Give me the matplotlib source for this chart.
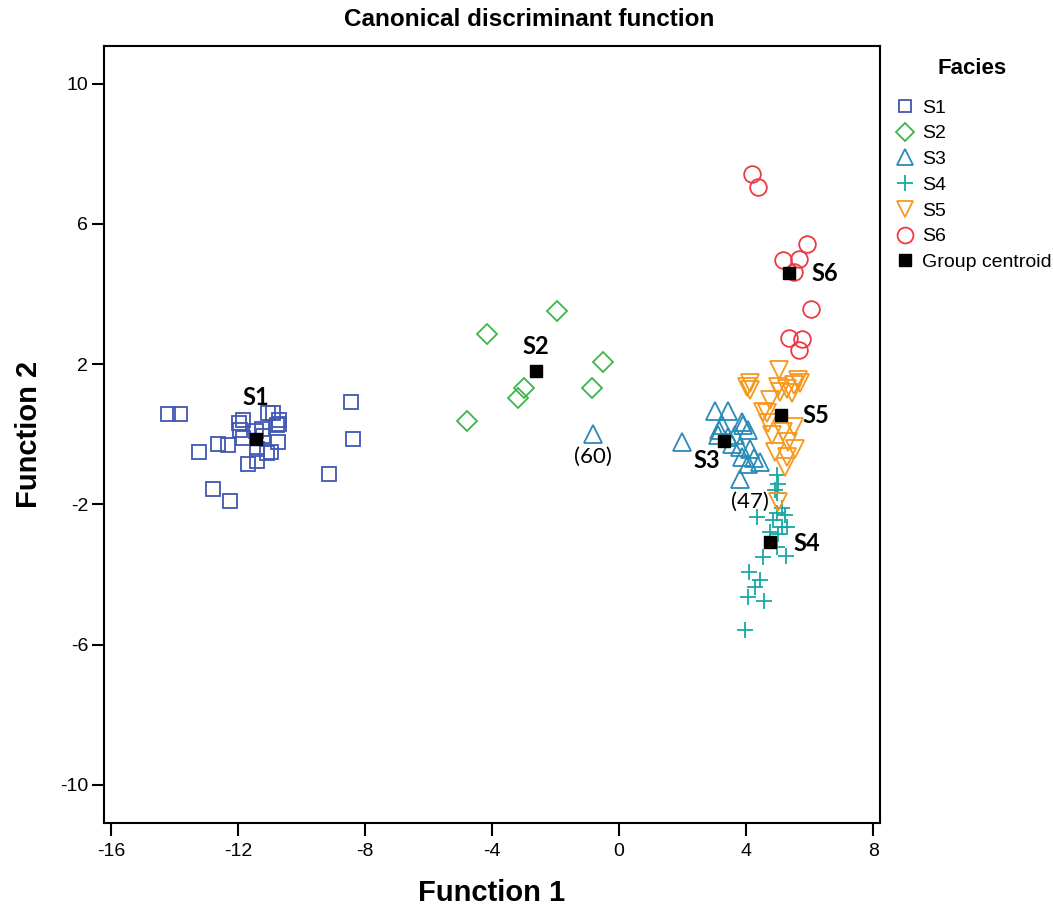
import numpy as np
import matplotlib
matplotlib.use('Agg')
import matplotlib.pyplot as plt
from matplotlib.lines import Line2D

# Discriminant scores per facies (Function 1, Function 2)
s1_x = [-14.19, -13.82, -8.44, -8.38, -9.12, -13.21, -12.77, -12.24, -12.62, -12.30,
        -11.69, -11.39, -11.44, -11.93, -11.85, -11.98, -11.83, -11.25, -11.40, -11.04,
        -10.88, -10.72, -10.70, -10.77, -10.74, -10.96, -11.09, -11.20]
s1_y = [0.58, 0.58, 0.91, -0.15, -1.14, -0.52, -1.57, -1.90, -0.27, -0.32,
        -0.85, -0.76, 0.09, 0.13, 0.40, 0.33, -0.12, 0.16, -0.41, 0.59,
        0.59, 0.40, 0.29, 0.26, -0.22, -0.51, -0.53, -0.06]

s2_x = [-1.96, -4.17, -0.51, -0.84, -3.01, -3.19, -4.79]
s2_y = [3.51, 2.85, 2.05, 1.33, 1.33, 1.02, 0.38]

s3_x = [1.97, 3.02, 3.44, 3.13, 3.23, 3.86, 3.91, 3.65, 3.55, 3.81, 4.12, 3.86,
        4.23, 4.44, 4.07, 3.81, 3.12, 3.43, 4.06, -0.81]
s3_y = [-0.22, 0.67, 0.67, 0.11, 0.26, 0.35, 0.26, -0.03, -0.27, -0.36, -0.41, -0.65,
        -0.69, -0.79, -0.84, -1.27, -0.03, -0.09, 0.11, 0.00]

s4_x = [4.99, 4.96, 4.96, 4.91, 4.35, 4.96, 5.22, 5.12, 5.12, 5.28, 4.75, 5.01,
        4.85, 4.96, 4.54, 5.25, 4.10, 4.44, 4.28, 4.07, 4.56, 3.96]
s4_y = [-1.41, -1.69, -1.17, -1.60, -2.36, -2.26, -2.31, -2.12, -2.65, -2.65, -2.79, -2.84,
        -2.45, -3.22, -3.50, -3.48, -3.93, -4.17, -4.36, -4.64, -4.76, -5.60]

s5_x = [4.02, 4.12, 5.01, 5.28, 5.49, 5.70, 4.75, 4.54, 5.07, 5.43, 5.49, 5.17,
        4.81, 5.33, 5.54, 4.91, 5.28, 5.22, 4.70, 4.65, 5.04, 4.12, 5.64, 5.01]
s5_y = [1.35, 1.26, 1.35, 1.30, 1.40, 1.45, 0.97, 0.64, 1.21, 1.16, 0.21, 0.07,
        -0.03, -0.22, -0.41, -0.51, -0.65, -0.93, 0.31, 0.59, 1.82, 1.45, 1.54, -1.93]

s6_x = [4.18, 4.38, 5.91, 5.17, 5.67, 5.51, 6.04, 5.36, 5.75, 5.67]
s6_y = [7.42, 7.06, 5.42, 4.97, 4.99, 4.63, 3.56, 2.73, 2.71, 2.40]

groups = ['S1', 'S2', 'S3', 'S4', 'S5', 'S6']
centroid_x = [-11.43, -2.63, 3.31, 4.75, 5.09, 5.36]
centroid_y = [-0.15, 1.79, -0.20, -3.07, 0.54, 4.59]

# case numbers shown next to two points
case_labels = ['(60)', '(47)']
case_x = [-0.81, 5.01]
case_y = [0.00, -1.93]

colors = ['#4157b3', '#3db54a', '#2a8ab8', '#17a8a6', '#f7981d', '#ec3a42']
markers = ['s', 'D', '^', '+', 'v', 'o']
msizes = [9.5, 10, 12.5, 12, 12.5, 12]
xs = [s1_x, s2_x, s3_x, s4_x, s5_x, s6_x]
ys = [s1_y, s2_y, s3_y, s4_y, s5_y, s6_y]

plt.rcParams['font.family'] = ['Liberation Sans', 'DejaVu Sans']
plt.rcParams['axes.unicode_minus'] = False

fig = plt.figure(figsize=(10.53, 9.13), dpi=100)
ax = fig.add_axes([0.0983, 0.0982, 0.7377, 0.8518])

handles = []
for g, x, y, c, m, ms in zip(groups, xs, ys, colors, markers, msizes):
    ax.plot(x, y, linestyle='none', marker=m, markersize=ms, markerfacecolor='none',
            markeredgecolor=c, markeredgewidth=1.3, zorder=2)
    handles.append(Line2D([], [], linestyle='none', marker=m, markersize=ms * 0.95,
                          markerfacecolor='none', markeredgecolor=c, markeredgewidth=1.3, label=g))

ax.plot(centroid_x, centroid_y, linestyle='none', marker='s', markersize=8.5,
        color='black', zorder=4)
handles.append(Line2D([], [], linestyle='none', marker='s', markersize=8.5,
                      color='black', label='Group centroid'))

# centroid labels (offsets in pixels)
offsets = [(0, 42), (0, 25), (-18, -19), (37, -2), (35, 0), (35, 0)]
for g, cx, cy, off in zip(groups, centroid_x, centroid_y, offsets):
    ax.annotate(g, (cx, cy), xytext=off, textcoords='offset pixels', ha='center', va='center',
                fontsize=17, fontweight='bold', family='Lato', zorder=5)

case_offsets = [(0, -23), (-28, 0)]
for t, cx, cy, off in zip(case_labels, case_x, case_y, case_offsets):
    ax.annotate(t, (cx, cy), xytext=off, textcoords='offset pixels', ha='center', va='center',
                fontsize=16, family='Lato', zorder=5)

ax.set_xlim(-16.23, 8.22)
ax.set_ylim(-11.1, 11.08)
ax.set_xticks([-16, -12, -8, -4, 0, 4, 8])
ax.set_yticks([10, 6, 2, -2, -6, -10])
ax.tick_params(axis='both', direction='out', length=9, width=1.5, labelsize=14)
ax.tick_params(axis='x', pad=5)
ax.tick_params(axis='y', pad=2)
for sp in ax.spines.values():
    sp.set_linewidth(1.5)

ax.set_xlabel('Function 1', fontsize=21, fontweight='bold', labelpad=14)
ax.set_ylabel('Function 2', fontsize=21, fontweight='bold', labelpad=12)
fig.text(0.503, 1 - 20 / 913, 'Canonical discriminant function', ha='center', va='center',
         fontsize=17.5, fontweight='bold')

fig.text(972 / 1053, 1 - 68 / 913, 'Facies', ha='center', va='center',
         fontsize=16, fontweight='bold')
leg = fig.legend(handles=handles, loc='upper left', bbox_to_anchor=(0.848, 1 - 99 / 913),
                 frameon=False, fontsize=14, labelspacing=0.42,
                 handletextpad=0.3, handlelength=1.2, borderaxespad=0, borderpad=0)

fig.savefig('out.png', dpi=100)
